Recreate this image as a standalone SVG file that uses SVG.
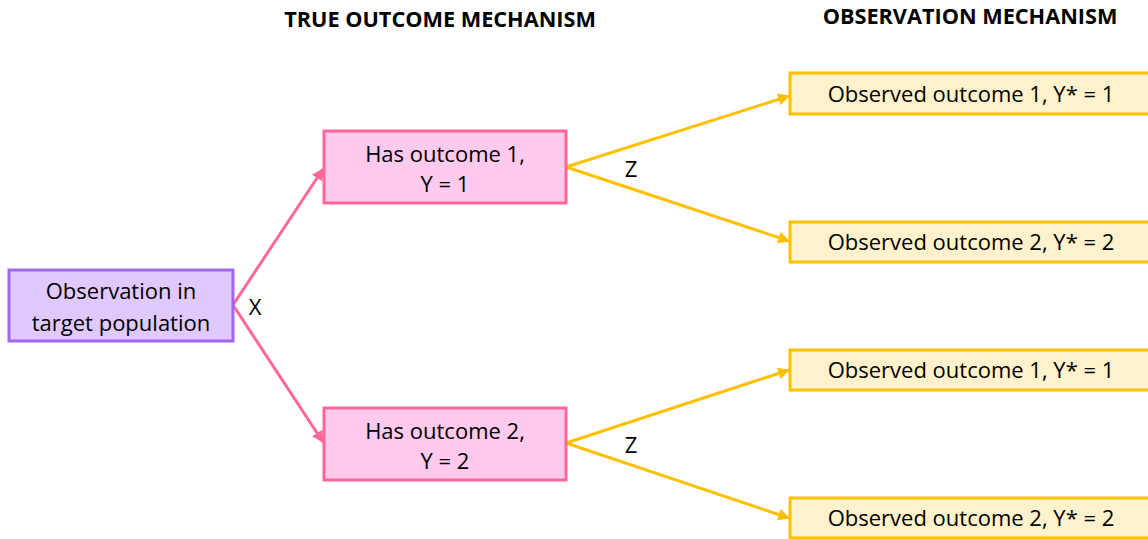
<svg xmlns="http://www.w3.org/2000/svg" width="1148" height="539" viewBox="0 0 1148 539">
<style>
text{font-family:"Open Sans","Liberation Sans",sans-serif;font-size:22px;fill:#000;text-anchor:middle}
.title{font-weight:bold;font-size:21.7px}
.pur{fill:#e0c9ff;stroke:#a366f0;stroke-width:3}
.pink{fill:#ffcaee;stroke:#ff6699;stroke-width:3}
.yel{fill:#fff2cc;stroke:#ffc000;stroke-width:3}
.pl{stroke:#ff6699;stroke-width:3;fill:none;marker-end:url(#ap)}
.yl{stroke:#ffc000;stroke-width:3;fill:none;marker-end:url(#ay)}
</style>
<defs>
<marker id="ap" viewBox="0 0 10 10" refX="9" refY="5" markerWidth="4" markerHeight="4" orient="auto"><path d="M0,0L10,5L0,10z" fill="#ff6699"/></marker>
<marker id="ay" viewBox="0 0 10 10" refX="9" refY="5" markerWidth="4" markerHeight="4" orient="auto"><path d="M0,0L10,5L0,10z" fill="#ffc000"/></marker>
</defs>
<rect width="1148" height="539" fill="#fff"/>
<text class="title" x="440" y="27">TRUE OUTCOME MECHANISM</text>
<text class="title" x="970" y="24">OBSERVATION MECHANISM</text>
<g id="connectors">
<path class="pl" d="M233,305L323,169"/>
<path class="pl" d="M233,305L323,442"/>
<path class="yl" d="M566,167L789,96"/>
<path class="yl" d="M566,167L789,241"/>
<path class="yl" d="M566,443L789,370"/>
<path class="yl" d="M566,443L789,518"/>
<text x="255" y="315">X</text>
<text x="631" y="177">Z</text>
<text x="631" y="453">Z</text>
</g>
<g id="n0"><rect class="pur" x="9" y="270" width="224" height="71"/><text x="121" y="299">Observation in</text><text x="121" y="331">target population</text></g>
<g id="n1"><rect class="pink" x="324" y="131" width="242" height="72"/><text x="445" y="162">Has outcome 1,</text><text x="445" y="192">Y = 1</text></g>
<g id="n2"><rect class="pink" x="324" y="408" width="242" height="72"/><text x="445" y="439">Has outcome 2,</text><text x="445" y="469">Y = 2</text></g>
<g id="n3"><rect class="yel" x="790" y="73" width="370" height="41"/><text x="971" y="102">Observed outcome 1, Y* = 1</text></g>
<g id="n4"><rect class="yel" x="790" y="222" width="370" height="40"/><text x="971" y="250">Observed outcome 2, Y* = 2</text></g>
<g id="n5"><rect class="yel" x="790" y="350" width="370" height="40"/><text x="971" y="378">Observed outcome 1, Y* = 1</text></g>
<g id="n6"><rect class="yel" x="790" y="498" width="370" height="40"/><text x="971" y="526">Observed outcome 2, Y* = 2</text></g>
</svg>
